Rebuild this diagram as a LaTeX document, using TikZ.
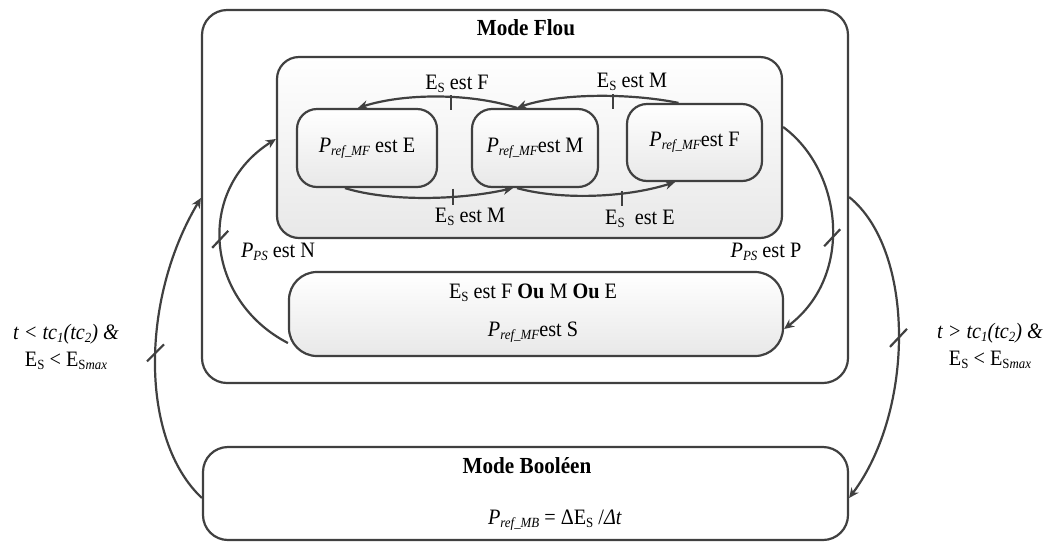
\documentclass[tikz,border=0pt]{standalone}
\usepackage{fontspec}
\setmainfont{Liberation Serif}[FakeStretch=0.92]
\usetikzlibrary{arrows.meta}
\definecolor{lg}{HTML}{404040}
\newcommand{\lo}[1]{\raisebox{-0.3ex}{\fontsize{14}{14}\selectfont #1}}
\begin{document}
\begin{tikzpicture}[x=1pt,y=-1pt,
  every node/.style={font=\fontsize{22}{27}\selectfont, inner sep=0pt},
  frame/.style={draw=lg, line width=2.2pt, fill=white},
  shaded/.style={draw=lg, line width=2.2pt, top color=white, bottom color=black!9},
  conn/.style={draw=lg, line width=2.2pt, -{Stealth[length=10pt,width=9pt]}},
  tk/.style={draw=lg, line width=2.2pt},
  ttl/.style={font=\fontsize{23}{27}\selectfont\bfseries}]
\useasboundingbox (0,0) rectangle (1052,542);
% Mode Flou
\node[frame, rounded corners=25pt, minimum width=646pt, minimum height=373pt] (flou) at (525,196.5) {};
\node[ttl] (flouT) at (526,28) {Mode Flou};
\node[shaded, rounded corners=22pt, minimum width=505pt, minimum height=181pt] (inner) at (529.5,147.5) {};
\node[shaded, rounded corners=20pt, minimum width=140pt, minimum height=78pt] (E) at (367,148) {\textit{P}\lo{\textit{ref\_MF}} est E};
\node[shaded, rounded corners=20pt, minimum width=126pt, minimum height=78pt] (M) at (535,148) {\textit{P}\lo{\textit{ref\_MF}}est M};
\node[shaded, rounded corners=20pt, minimum width=135pt, minimum height=77pt] (F) at (694.5,142.5) {\textit{P}\lo{\textit{ref\_MF}}est F};
\node[shaded, rounded corners=28pt, minimum width=494pt, minimum height=84pt] (S) at (536,314) {};
\node (S1) at (533,293) {E\lo{S} est F \textbf{Ou} M \textbf{Ou} E};
\node (S2) at (533,332) {\textit{P}\lo{\textit{ref\_MF}}est S};
% Mode Booleen
\node[frame, rounded corners=25pt, minimum width=645pt, minimum height=93pt] (B) at (525.5,493.5) {};
\node[ttl] (BT) at (527,466) {Mode Booléen};
\node (BF) at (555,520) {\textit{P}\lo{\textit{ref\_MB}} = ΔE\lo{S} /\textit{Δt}};
% inner transitions
\draw[conn] ([xshift=-18pt]M.north) .. controls (470,93) and (405,93) .. ([xshift=-9pt]E.north) coordinate[pos=0.42] (t1);
\draw[tk] ([yshift=2pt]t1) -- ([yshift=-13pt]t1);
\node (l1) at (457,84) {E\lo{S} est F};
\draw[conn] ([xshift=-16pt]F.north) .. controls (630,93) and (560,93) .. ([xshift=-18pt]M.north) coordinate[pos=0.4] (t2);
\draw[tk] ([yshift=2pt]t2) -- ([yshift=-13pt]t2);
\node (l2) at (632,82) {E\lo{S} est M};
\draw[conn] ([xshift=-22pt]E.south) .. controls (390,202) and (460,200) .. ([xshift=-22pt]M.south) coordinate[pos=0.65] (t3);
\draw[tk] ([yshift=8pt]t3) -- ([yshift=-8pt]t3);
\node (l3) at (470,217) {E\lo{S} est M};
\draw[conn] ([xshift=-18pt]M.south) .. controls (560,200) and (625,198) .. ([xshift=-19.5pt]F.south) coordinate[pos=0.67] (t4);
\draw[tk] ([yshift=2pt]t4) -- ([yshift=-13pt]t4);
\node (l4) at (640,219) {E\lo{S}\ \ est E};
% P_PS transitions
\draw[conn] ([yshift=-29pt]S.west) .. controls (205,300) and (195,190) .. ([yshift=8.5pt]inner.west) coordinate[pos=0.52] (t5);
\draw[tk] ([shift={(-8pt,-8.5pt)}]t5) -- ([shift={(8pt,8.5pt)}]t5);
\node (l5) at (278,252) {\textit{P}\lo{\textit{PS}} est N};
\draw[conn] ([yshift=20.5pt]inner.east) .. controls (842,170) and (855,275) .. ([yshift=-15pt]S.east) coordinate[pos=0.56] (t6);
\draw[tk] ([shift={(-8pt,-8.5pt)}]t6) -- ([shift={(8pt,8.5pt)}]t6);
\node (l6) at (766,252) {\textit{P}\lo{\textit{PS}} est P};
% mode transitions
\draw[conn] ([yshift=-4.5pt]B.west) .. controls (140,440) and (140,300) .. ([yshift=-1.5pt]flou.west) coordinate[pos=0.535] (t7);
\draw[tk] ([shift={(-8.5pt,-8.5pt)}]t7) -- ([shift={(8.5pt,8.5pt)}]t7);
\node[align=center] (l7) at (66,347) {\textit{t < tc\lo{1}(tc\lo{2}) \&}\\E\lo{S} < E\lo{S\textit{max}}};
\draw[conn] ([yshift=-0.5pt]flou.east) .. controls (915,250) and (915,410) .. ([yshift=-4.5pt]B.east) coordinate[pos=0.51] (t8);
\draw[tk] ([shift={(-8.5pt,-9pt)}]t8) -- ([shift={(8.5pt,9pt)}]t8);
\node[align=center] (l8) at (990,346) {\textit{t > tc\lo{1}(tc\lo{2}) \&}\\E\lo{S} < E\lo{S\textit{max}}};
\end{tikzpicture}
\end{document}
